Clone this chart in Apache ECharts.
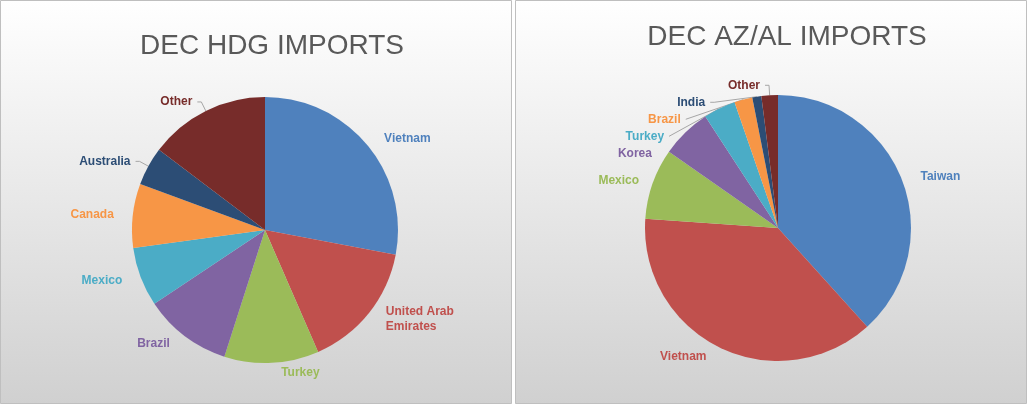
<!DOCTYPE html>
<html><head><meta charset="utf-8">
<script src="https://cdn.jsdelivr.net/npm/echarts@6/dist/echarts.min.js"></script>
<style>html,body{margin:0;padding:0;background:#fff}#c{width:1028px;height:405px}</style>
</head><body><div id="c"></div>
<script>
const hdgCats=['Vietnam','United Arab\nEmirates','Turkey','Brazil','Mexico','Canada','Australia','Other'];
const hdgVals=[28,15.5,11.5,10.7,7.2,7.8,4.7,14.7];
const azCats=['Taiwan','Vietnam','Mexico','Korea','Turkey','Brazil','India','Other'];
const azVals=[38.3,37.8,8.6,6.1,3.9,2.2,1.1,2.0];
const colors=['#4f81bd','#c0504d','#9bbb59','#8064a2','#4bacc6','#f79646','#2c4d75','#772c2a'];
function mk(cats,vals,lineIdx){return cats.map((n,i)=>({name:n,value:vals[i],itemStyle:{color:colors[i]},label:{color:colors[i]},labelLine:{show:true,lineStyle:{color:lineIdx.includes(i)?'#a6a6a6':'rgba(0,0,0,0)'}}}));}
const bg={type:'linear',x:0,y:0,x2:0,y2:1,colorStops:[{offset:0,color:'#ffffff'},{offset:1,color:'#d0d0d0'}]};
const chart=echarts.init(document.getElementById('c'));
const pieBase={type:'pie',radius:133,startAngle:90,clockwise:true,avoidLabelOverlap:true,
 label:{fontFamily:'Liberation Sans',fontSize:12,fontWeight:'bold',lineHeight:15},
 labelLine:{length:10,length2:4},itemStyle:{borderColor:'#fff',borderWidth:0}};
chart.setOption({
 animation:false,
 graphic:[
  {type:'rect',shape:{x:0.5,y:0.5,width:511,height:403},style:{fill:bg,stroke:'#bfbfbf'}},
  {type:'rect',shape:{x:515.5,y:0.5,width:511,height:403},style:{fill:bg,stroke:'#bfbfbf'}}
 ],
 title:[
  {text:'DEC HDG IMPORTS',left:267,top:27,textAlign:'center',textStyle:{fontFamily:'Liberation Sans',fontSize:28,fontWeight:'normal',color:'#595959'}},
  {text:'DEC AZ/AL IMPORTS',left:782,top:18,textAlign:'center',textStyle:{fontFamily:'Liberation Sans',fontSize:28,fontWeight:'normal',color:'#595959'}}
 ],
 series:[
  Object.assign({},pieBase,{center:[265,230],data:mk(hdgCats,hdgVals,[6,7])}),
  Object.assign({},pieBase,{center:[778,228],data:mk(azCats,azVals,[4,5,6,7])})
 ]
});
</script></body></html>
